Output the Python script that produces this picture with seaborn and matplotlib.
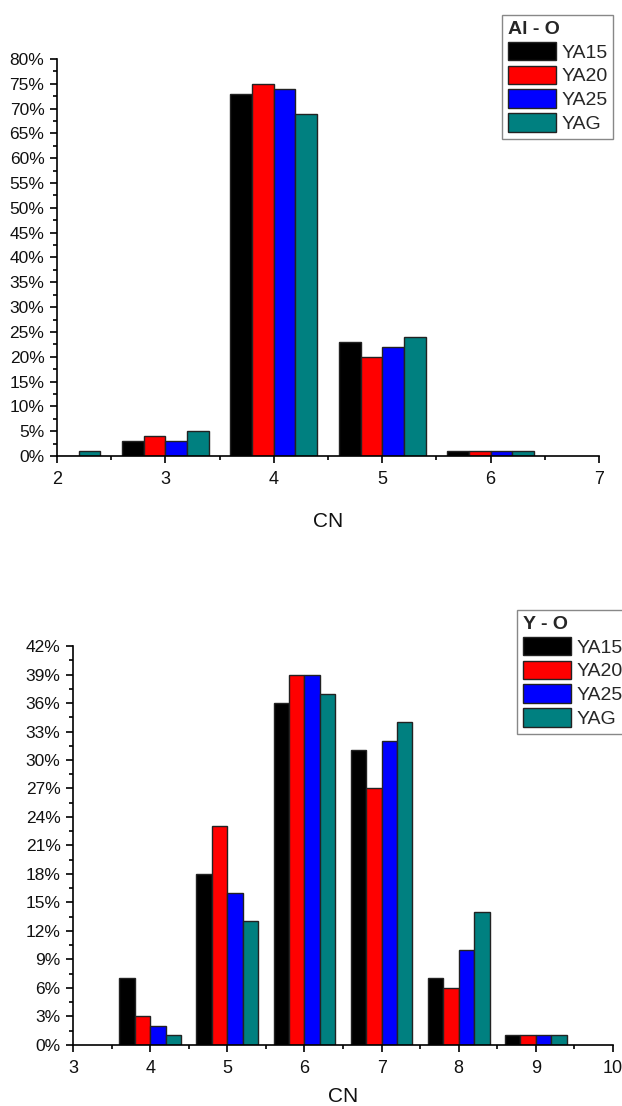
import matplotlib
matplotlib.use("Agg")
import matplotlib.pyplot as plt
from matplotlib.ticker import MultipleLocator, FuncFormatter
import seaborn as sns
import pandas as pd

sns.set_theme(style="ticks")
plt.rcParams["font.family"] = ["Liberation Sans", "DejaVu Sans"]

samples = ["YA15", "YA20", "YA25", "YAG"]
colors = ["#000000", "#FF0000", "#0000FF", "#008080"]

# Al - O coordination number distribution (%)
al_cn = [2, 3, 4, 5, 6]
al_ya15 = [0, 3, 73, 23, 1]
al_ya20 = [0, 4, 75, 20, 1]
al_ya25 = [0, 3, 74, 22, 1]
al_yag = [1, 5, 69, 24, 1]

# Y - O coordination number distribution (%)
y_cn = [4, 5, 6, 7, 8, 9]
y_ya15 = [7, 18, 36, 31, 7, 1]
y_ya20 = [3, 23, 39, 27, 6, 1]
y_ya25 = [2, 16, 39, 32, 10, 1]
y_yag = [1, 13, 37, 34, 14, 1]


def long_frame(cn, series):
    rows = []
    for name, vals in zip(samples, series):
        for c, v in zip(cn, vals):
            rows.append({"CN": c, "sample": name, "pct": v})
    return pd.DataFrame(rows)


def draw(ax, df, title, xlim, ymax, ystep, legend_anchor, xlabelpad):
    sns.barplot(data=df, x="CN", y="pct", hue="sample", hue_order=samples,
                palette=colors, native_scale=True, width=0.8, errorbar=None,
                edgecolor="#222222", linewidth=1.0, saturation=1, ax=ax)
    ax.set_xlim(*xlim)
    ax.set_ylim(0, ymax)
    ax.xaxis.set_major_locator(MultipleLocator(1))
    ax.xaxis.set_minor_locator(MultipleLocator(0.5))
    ax.yaxis.set_major_locator(MultipleLocator(ystep))
    ax.yaxis.set_minor_locator(MultipleLocator(ystep / 2))
    ax.yaxis.set_major_formatter(FuncFormatter(lambda v, p: f"{v:.0f}%"))
    ax.xaxis.set_major_formatter(FuncFormatter(lambda v, p: f"{v:.0f}"))
    for s in ("top", "right"):
        ax.spines[s].set_visible(False)
    for s in ("left", "bottom"):
        ax.spines[s].set_color("black")
        ax.spines[s].set_linewidth(1.2)
    ax.tick_params(which="major", direction="out", length=5, width=1.2,
                   color="black", labelcolor="#111111")
    ax.tick_params(axis="y", which="major", labelsize=12.5, pad=4)
    ax.tick_params(axis="x", which="major", labelsize=13, pad=6)
    ax.tick_params(which="minor", direction="out", length=3, width=1.2,
                   color="black")
    ax.set_xlabel("CN", fontsize=15, labelpad=xlabelpad, color="#111111")
    ax.set_ylabel("")
    ax.grid(False)
    handles, labels = ax.get_legend_handles_labels()
    leg = ax.legend(handles, labels, title=title, loc="upper left",
                    bbox_to_anchor=legend_anchor,
                    bbox_transform=ax.figure.transFigure,
                    fontsize=14, title_fontsize=14, frameon=True,
                    fancybox=False, edgecolor="#888888", framealpha=1,
                    handlelength=2.5, handleheight=1.1, handletextpad=0.25,
                    labelspacing=0.2, borderpad=0.3, borderaxespad=0)
    leg.get_title().set_fontweight("bold")
    leg._legend_box.align = "left"
    leg.get_frame().set_linewidth(1.0)


fig = plt.figure(figsize=(6.22, 11.06), dpi=100)
ax1 = fig.add_axes([0.0916, 0.5877, 0.8714, 0.359])
ax2 = fig.add_axes([0.1174, 0.0552, 0.8681, 0.3607])

draw(ax1, long_frame(al_cn, [al_ya15, al_ya20, al_ya25, al_yag]),
     "Al - O", (2, 7), 80, 5, (502 / 622, 1 - 15 / 1106), 17)
draw(ax2, long_frame(y_cn, [y_ya15, y_ya20, y_ya25, y_yag]),
     "Y - O", (3, 10), 42, 3, (517 / 622, 1 - 610 / 1106), 7)

fig.savefig("out.png", dpi=100)
